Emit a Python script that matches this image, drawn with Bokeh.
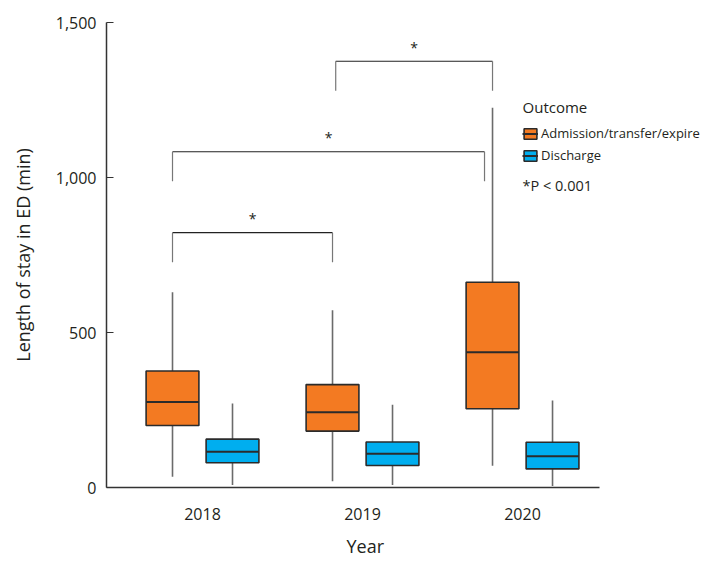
import numpy as np
from bokeh.plotting import figure
from bokeh.models import (ColumnDataSource, Range1d, FixedTicker, NumeralTickFormatter,
                          Legend, LegendItem, Label, Title)
from bokeh.embed import file_html
from bokeh.resources import INLINE
from bokeh.core.properties import value

# ---------------- data ----------------
years = ["2018", "2019", "2020"]

adm_low = [35, 20, 70]
adm_q1 = [200, 182, 254]
adm_median = [276, 243, 436]
adm_q3 = [376, 332, 662]
adm_high = [630, 572, 1225]

dis_low = [8, 8, 5]
dis_q1 = [80, 71, 60]
dis_median = [115, 109, 101]
dis_q3 = [156, 147, 146]
dis_high = [271, 267, 281]

# significance brackets (between Admission boxes)
bracket_from = [0, 0, 1]
bracket_to = [1, 2, 2]
bracket_height = [822, 1083, 1375]
bracket_labels = ["*", "*", "*"]

y_ticks = [0, 500, 1000, 1500]

# ---------------- style ----------------
FONT = "Open Sans"
TXT = "#231f20"
ORANGE = "#F37A22"
BLUE = "#00AEEF"
OFFSET = 0.1875
BOX_W = 0.33
LEG = 95

p = figure(frame_width=601, frame_height=465, output_backend="svg", toolbar_location=None,
           x_range=Range1d(-0.6, 3.156), y_range=Range1d(0, 1500),
           min_border_left=106, min_border_right=0, min_border_top=22,
           min_border_bottom=60)
p.outline_line_color = None
p.xgrid.visible = False
p.ygrid.visible = False
p.background_fill_color = "white"
p.border_fill_color = "white"

idx = np.arange(len(years))


def box_source(pos, low, q1, med, q3, high):
    return ColumnDataSource(dict(
        x=pos, x0=pos - BOX_W / 2, x1=pos + BOX_W / 2,
        low=low, q1=q1, med=med, q3=q3, high=high))


src_a = box_source(idx - OFFSET, adm_low, adm_q1, adm_median, adm_q3, adm_high)
src_d = box_source(idx + OFFSET, dis_low, dis_q1, dis_median, dis_q3, dis_high)

renders = {}
for name, src, col in [("a", src_a, ORANGE), ("d", src_d, BLUE)]:
    p.segment(x0="x", x1="x", y0="q3", y1="high", source=src, line_color="#6b6b6b", line_width=1.6)
    p.segment(x0="x", x1="x", y0="low", y1="q1", source=src, line_color="#6b6b6b", line_width=1.6)
    b = p.vbar(x="x", width=BOX_W, bottom="q1", top="q3", source=src,
               fill_color=col, line_color="#2b2b2b", line_width=1.6)
    m = p.segment(x0="x0", x1="x1", y0="med", y1="med", source=src,
                  line_color="#2b2b2b", line_width=2)
    renders[name] = (b, m)

# brackets
bx0 = np.array(bracket_from) - OFFSET
bx1 = np.array(bracket_to) - OFFSET
bx1[1] -= 0.05
bx0[2] += 0.02
bh = np.array(bracket_height)
br = ColumnDataSource(dict(x0=bx0, x1=bx1, y=bh, yl=bh - LEG,
                           xm=(bx0 + bx1) / 2, ys=bh + 45, t=bracket_labels))
p.segment(x0="x0", x1="x1", y0="y", y1="y", source=br, line_color="#222222", line_width=1.2)
p.segment(x0="x0", x1="x0", y0="y", y1="yl", source=br, line_color="#777777", line_width=1.2)
p.segment(x0="x1", x1="x1", y0="y", y1="yl", source=br, line_color="#777777", line_width=1.2)
p.text(x="xm", y="ys", text="t", source=br, text_align="center", text_baseline="middle",
       text_font=value(FONT), text_font_size="14px", text_color=TXT)

# axes
p.xaxis.ticker = FixedTicker(ticks=list(idx))
p.xaxis.bounds = (-0.6, 2.48)
p.xaxis.major_label_overrides = {int(i): y for i, y in zip(idx, years)}
p.xaxis.major_tick_line_color = None
p.xaxis.minor_tick_line_color = None
p.xaxis.major_label_standoff = 14

p.yaxis.ticker = FixedTicker(ticks=y_ticks)
p.yaxis.formatter = NumeralTickFormatter(format="0,0")
p.yaxis.major_tick_in = 7
p.yaxis.major_tick_out = 0
p.yaxis.minor_tick_line_color = None
p.yaxis.axis_label = "Length of stay in ED (min)"
p.yaxis.major_label_standoff = 10
p.yaxis.axis_label_standoff = 18

for ax in (p.xaxis[0], p.yaxis[0]):
    ax.axis_line_color = "#333333"
    ax.axis_line_width = 1.5
    ax.major_label_text_font = FONT
    ax.major_label_text_font_size = "16px"
    ax.major_label_text_color = TXT
    ax.axis_label_text_font = FONT
    ax.axis_label_text_font_size = "18px"
    ax.axis_label_text_font_style = "normal"
    ax.axis_label_text_color = TXT
p.yaxis.major_tick_line_color = "#333333"

# x-axis title, centred under the axis line (not the whole frame)
p.add_layout(Title(text="Year", align="left", offset=240, standoff=19,
                   text_font=FONT, text_font_size="18px", text_font_style="normal",
                   text_color=TXT), "below")

# legend
legend = Legend(items=[
    LegendItem(label="Admission/transfer/expire", renderers=list(renders["a"])),
    LegendItem(label="Discharge", renderers=list(renders["d"])),
], location=(416, 322), orientation="vertical", padding=0, margin=0, spacing=2,
    glyph_width=16, glyph_height=13, label_height=20, label_standoff=3,
    border_line_color=None, background_fill_alpha=0,
    label_text_font=FONT, label_text_font_size="13px", label_text_color=TXT)
p.add_layout(legend, "center")

p.add_layout(Label(x=2.0, y=1229, text="Outcome", text_font=FONT, text_font_size="15px",
                   text_color=TXT, text_baseline="middle"))
p.add_layout(Label(x=2.0, y=974, text="*P < 0.001", text_font=FONT, text_font_size="14.5px",
                   text_color=TXT, text_baseline="middle"))

open("out.html", "w").write(file_html(p, INLINE))
